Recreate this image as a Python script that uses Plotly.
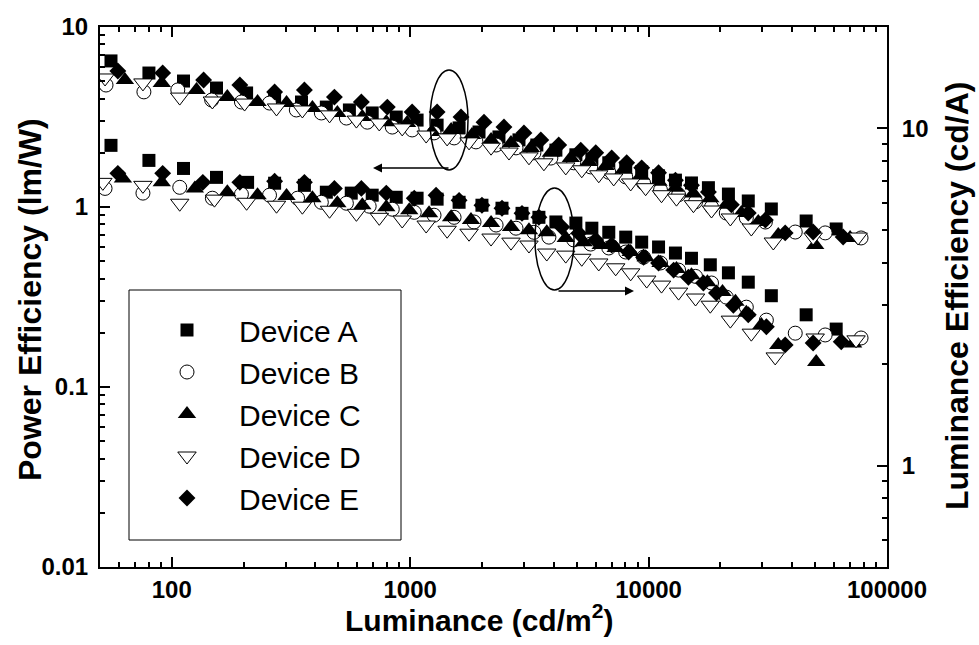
import plotly.graph_objects as go
import numpy as np

# ---------------- data ----------------
devices = ["Device A", "Device B", "Device C", "Device D", "Device E"]

# Power efficiency (lm/W) vs luminance (cd/m2)  -> left axis
pe_A_x = [55.6, 80.2, 112, 154, 206, 270, 350, 445, 556, 693, 874, 1069, 1297, 1604, 1944, 2357, 2860, 3398, 4085,
          4955, 5781, 6808, 8018, 9354, 11010, 12960, 15130, 17820, 21620, 26190, 32720, 45810, 61220]
pe_A_y = [6.48, 5.55, 5.01, 4.58, 4.30, 4.08, 3.83, 3.59, 3.46, 3.33, 3.16, 3.04, 2.85, 2.75, 2.61, 2.45, 2.36, 2.21, 2.07,
          1.95, 1.85, 1.76, 1.65, 1.57, 1.49, 1.41, 1.36, 1.28, 1.18, 1.08, 0.975, 0.836, 0.755]

pe_B_x = [53.0, 76.4, 106, 147, 196, 257, 333, 424, 540, 661, 841, 1019, 1259, 1528, 1888, 2293, 2779, 3304, 3891,
          4853, 5718, 6808, 8018, 9525, 11220, 13360, 15740, 18360, 21180, 25700, 30890, 41220, 55040, 77830]
pe_B_y = [4.76, 4.36, 4.47, 3.93, 3.83, 3.78, 3.46, 3.33, 3.12, 2.96, 2.78, 2.68, 2.58, 2.42, 2.30, 2.21, 2.13, 2.00, 1.87,
          1.76, 1.67, 1.56, 1.47, 1.36, 1.24, 1.17, 1.07, 1.00, 0.926, 0.869, 0.825, 0.726, 0.718, 0.673]

pe_C_x = [63.6, 90.8, 127, 171, 229, 303, 389, 495, 630, 794, 971, 1236, 1485, 1816, 2184, 2648, 3209, 3891,
          4720, 5610, 6607, 7852, 9268, 11010, 12960, 15420, 18150, 21180, 24490, 28840, 34990, 49980, 70030]
pe_C_y = [5.08, 4.89, 4.47, 4.08, 3.83, 3.78, 3.55, 3.33, 3.16, 2.96, 2.93, 2.61, 2.68, 2.51, 2.36, 2.27, 2.13, 2.00,
          1.87, 1.78, 1.69, 1.61, 1.49, 1.38, 1.28, 1.19, 1.12, 1.03, 0.926, 0.825, 0.699, 0.615, 0.673]

pe_D_x = [52.5, 75.7, 108, 148, 202, 275, 353, 459, 595, 742, 926, 1167, 1429, 1766, 2184, 2597, 3150, 3638,
          4493, 5245, 6180, 7139, 8410, 9718, 11330, 13090, 15420, 18360, 22030, 26970, 33350, 48990, 75660]
pe_D_y = [5.21, 4.89, 4.08, 3.88, 3.78, 3.55, 3.46, 3.25, 3.04, 2.93, 2.75, 2.51, 2.42, 2.30, 2.15, 2.02, 1.90, 1.76,
          1.67, 1.61, 1.51, 1.45, 1.36, 1.28, 1.17, 1.12, 1.03, 0.962, 0.869, 0.764, 0.639, 0.681, 0.681]

pe_E_x = [59.4, 91.6, 136, 193, 270, 360, 481, 624, 802, 1019, 1297, 1634, 2040, 2474, 3001, 3532, 4198,
          5193, 6003, 7003, 8093, 9354, 11010, 12960, 15130, 17820, 22240, 26190, 30890, 37410, 48990, 65480]
pe_E_y = [5.70, 5.55, 5.08, 4.76, 4.36, 4.47, 4.08, 3.83, 3.59, 3.37, 3.37, 3.16, 2.96, 2.78, 2.58, 2.36, 2.21,
          2.07, 2.00, 1.87, 1.76, 1.65, 1.55, 1.41, 1.32, 1.21, 1.03, 0.926, 0.847, 0.718, 0.726, 0.681]

# Luminance efficiency (cd/A) vs luminance (cd/m2)  -> right axis
le_A_x = [55.6, 80.2, 112, 154, 208, 270, 360, 445, 566, 693, 874, 1069, 1297, 1604, 2000, 2427, 2945, 3467, 4085,
          4955, 5781, 6808, 8018, 9354, 11010, 12960, 15130, 18150, 21620, 26190, 32720, 45810, 61220]
le_A_y = [8.91, 8.04, 7.61, 7.16, 6.92, 6.88, 6.78, 6.47, 6.43, 6.34, 6.25, 6.21, 6.17, 6.04, 5.92, 5.80, 5.60, 5.45, 5.28,
          5.24, 5.06, 4.92, 4.76, 4.60, 4.45, 4.27, 4.12, 3.94, 3.73, 3.50, 3.19, 2.80, 2.54]

le_B_x = [52.5, 75.7, 108, 148, 196, 257, 337, 424, 540, 673, 841, 1040, 1259, 1528, 1853, 2293, 2779, 3304, 3819,
          4853, 5718, 6808, 8018, 9525, 11220, 13360, 15740, 18360, 21180, 25700, 31190, 41220, 55040, 77830]
le_B_y = [6.64, 6.43, 6.69, 6.21, 6.38, 6.34, 6.21, 6.04, 6.00, 5.88, 5.76, 5.64, 5.53, 5.45, 5.28, 5.17, 5.06, 4.92, 4.76,
          4.67, 4.54, 4.42, 4.30, 4.15, 3.99, 3.80, 3.64, 3.48, 3.16, 2.95, 2.70, 2.47, 2.44, 2.39]

le_C_x = [62.4, 90.8, 125, 171, 229, 303, 389, 495, 630, 794, 991, 1200, 1485, 1799, 2184, 2648, 3150, 3740,
          4493, 5346, 6297, 7278, 8410, 9718, 11220, 13090, 15130, 17650, 20420, 23140, 25700, 29720, 34990, 50470, 72080]
le_C_y = [7.11, 6.92, 6.64, 6.47, 6.34, 6.30, 6.21, 6.00, 5.92, 5.84, 5.72, 5.60, 5.45, 5.35, 5.24, 5.10, 4.99, 4.92,
          4.73, 4.60, 4.51, 4.42, 4.30, 4.15, 3.99, 3.83, 3.67, 3.50, 3.27, 3.06, 2.84, 2.61, 2.28, 2.03, 2.30]

le_D_x = [51.4, 75.7, 108, 151, 206, 275, 353, 459, 595, 742, 926, 1167, 1429, 1766, 2184, 2648, 3150, 3740,
          4493, 5245, 6180, 7278, 8410, 9820, 11330, 13360, 15740, 18150, 22030, 26970, 33970, 49980, 74170]
le_D_y = [6.92, 6.78, 6.00, 6.17, 6.04, 5.92, 5.88, 5.72, 5.60, 5.45, 5.35, 5.17, 4.99, 4.89, 4.73, 4.60, 4.51, 4.27,
          4.21, 4.12, 3.99, 3.86, 3.73, 3.55, 3.43, 3.27, 3.14, 2.99, 2.70, 2.47, 2.10, 2.39, 2.36]

le_E_x = [59.4, 91.6, 135, 193, 270, 360, 481, 624, 794, 1040, 1284, 1604, 2000, 2427, 2945, 3467, 4325,
          5094, 6003, 7003, 8247, 9525, 11010, 12740, 14690, 16980, 19260, 22680, 26190, 31190, 37410, 48990, 64270]
le_E_y = [7.36, 7.36, 6.92, 6.92, 6.97, 6.92, 6.64, 6.64, 6.43, 6.21, 6.34, 6.12, 5.92, 5.80, 5.60, 5.45, 5.10,
          4.89, 4.67, 4.51, 4.30, 4.15, 3.99, 3.80, 3.62, 3.48, 3.25, 2.99, 2.80, 2.58, 2.28, 2.31, 2.33]

x_tick_vals = [100, 1000, 10000, 100000]
x_tick_text = ["100", "1000", "10000", "100000"]
y_tick_vals = [0.01, 0.1, 1, 10]
y_tick_text = ["0.01", "0.1", "1", "10"]
y2_tick_vals = [1, 10]
y2_tick_text = ["1", "10"]

pe_data = [(pe_A_x, pe_A_y), (pe_B_x, pe_B_y), (pe_C_x, pe_C_y), (pe_D_x, pe_D_y), (pe_E_x, pe_E_y)]
le_data = [(le_A_x, le_A_y), (le_B_x, le_B_y), (le_C_x, le_C_y), (le_D_x, le_D_y), (le_E_x, le_E_y)]

# ---------------- styles ----------------
styles = [
    dict(symbol="square", size=13, color="black", line=dict(color="black", width=0)),
    dict(symbol="circle", size=14, color="white", line=dict(color="black", width=1)),
    dict(symbol="triangle-up", size=16, color="black", line=dict(color="black", width=0)),
    dict(symbol="triangle-down", size=16, color="white", line=dict(color="black", width=1)),
    dict(symbol="diamond", size=13, color="black", line=dict(color="black", width=0)),
]

FONT = "Liberation Sans, Arial, sans-serif"

fig = go.Figure()
for name, (x, y), st in zip(devices, pe_data, styles):
    fig.add_trace(go.Scatter(x=x, y=y, mode="markers", name=name, marker=st,
                             legendgroup=name, showlegend=True, yaxis="y"))
for name, (x, y), st in zip(devices, le_data, styles):
    fig.add_trace(go.Scatter(x=x, y=y, mode="markers", name=name, marker=st,
                             legendgroup=name, showlegend=False, yaxis="y2"))


def minor_vals(lo_exp, hi_exp, lo=None, hi=None):
    vals = []
    for e in range(lo_exp, hi_exp + 1):
        for k in range(2, 10):
            v = k * 10.0 ** e
            if (lo is None or v >= lo) and (hi is None or v <= hi):
                vals.append(v)
    return vals


tickfont = dict(family=FONT, size=24, color="black", weight="bold")

axis_common = dict(
    type="log", showline=True, linecolor="black", linewidth=2,
    ticks="inside", ticklen=10, tickwidth=1.5, tickcolor="black",
    showgrid=False, zeroline=False, tickfont=tickfont, automargin=False,
)

fig.update_layout(
    width=979, height=645,
    margin=dict(l=100, r=92, t=27, b=78),
    paper_bgcolor="white", plot_bgcolor="white",
    showlegend=True,
    xaxis=dict(**axis_common, range=[np.log10(50), 5], mirror="ticks",
               tickmode="array", tickvals=x_tick_vals, ticktext=x_tick_text,
               ticklabelstandoff=0,
               minor=dict(tickmode="array", tickvals=minor_vals(1, 4, 50, 90000),
                          ticks="inside", ticklen=5, tickwidth=1.5, tickcolor="black", showgrid=False)),
    yaxis=dict(**axis_common, range=[-2, 1], side="left",
               tickmode="array", tickvals=y_tick_vals, ticktext=y_tick_text,
               ticklabelstandoff=5,
               minor=dict(tickmode="array", tickvals=minor_vals(-2, 0),
                          ticks="inside", ticklen=5, tickwidth=1.5, tickcolor="black", showgrid=False)),
    yaxis2=dict(**axis_common, range=[np.log10(0.5), np.log10(20)], side="right", overlaying="y",
                tickmode="array", tickvals=y2_tick_vals, ticktext=y2_tick_text,
                ticklabelstandoff=8,
                minor=dict(tickmode="array", tickvals=minor_vals(-1, 1, 0.5, 20),
                           ticks="inside", ticklen=5, tickwidth=1.5, tickcolor="black", showgrid=False)),
    legend=dict(x=(135 - 100) / 787, y=(567 - 304) / 540, xanchor="left", yanchor="top",
                bgcolor="rgba(0,0,0,0)", borderwidth=0, itemwidth=94,
                font=dict(family=FONT, size=30, color="black"), tracegroupgap=0),
)

# legend frame
fig.add_shape(type="rect", xref="paper", yref="paper",
              x0=(129 - 100) / 787, x1=(401 - 100) / 787,
              y0=(567 - 540) / 540, y1=(567 - 290) / 540,
              line=dict(color="black", width=1), fillcolor="rgba(0,0,0,0)")

# ellipses marking the two groups
fig.add_shape(type="circle", xref="paper", yref="paper",
              x0=(430 - 100) / 787, x1=(468 - 100) / 787,
              y0=(567 - 170) / 540, y1=(567 - 70) / 540,
              line=dict(color="black", width=1.5))
fig.add_shape(type="circle", xref="paper", yref="paper",
              x0=(535 - 100) / 787, x1=(574 - 100) / 787,
              y0=(567 - 290) / 540, y1=(567 - 188) / 540,
              line=dict(color="black", width=1.5))

# arrows pointing to the axes
fig.add_annotation(xref="paper", yref="paper", x=(373 - 100) / 787, y=(567 - 168) / 540,
                   ax=77, ay=0, text="", showarrow=True, arrowhead=2, arrowsize=1.2,
                   arrowwidth=1.5, arrowcolor="black")
fig.add_annotation(xref="paper", yref="paper", x=(634 - 100) / 787, y=(567 - 291) / 540,
                   ax=-77, ay=0, text="", showarrow=True, arrowhead=2, arrowsize=1.2,
                   arrowwidth=1.5, arrowcolor="black")

titlefont = dict(family=FONT, size=30, color="black", weight="bold")
fig.add_annotation(xref="paper", yref="paper", x=(479 - 100) / 787, y=(567 - 618) / 540,
                   xanchor="center", yanchor="middle", showarrow=False,
                   text="Luminance (cd/m<sup>2</sup>)", font=titlefont)
fig.add_annotation(xref="paper", yref="paper", x=(30 - 100) / 787, y=(567 - 300) / 540,
                   xanchor="center", yanchor="middle", showarrow=False, textangle=-90,
                   text="Power Efficiency (lm/W)", font=dict(titlefont, size=32))
fig.add_annotation(xref="paper", yref="paper", x=(957 - 100) / 787, y=(567 - 296) / 540,
                   xanchor="center", yanchor="middle", showarrow=False, textangle=-90,
                   text="Luminance Efficiency (cd/A)", font=dict(titlefont, size=32))

fig.write_html("out.html")
